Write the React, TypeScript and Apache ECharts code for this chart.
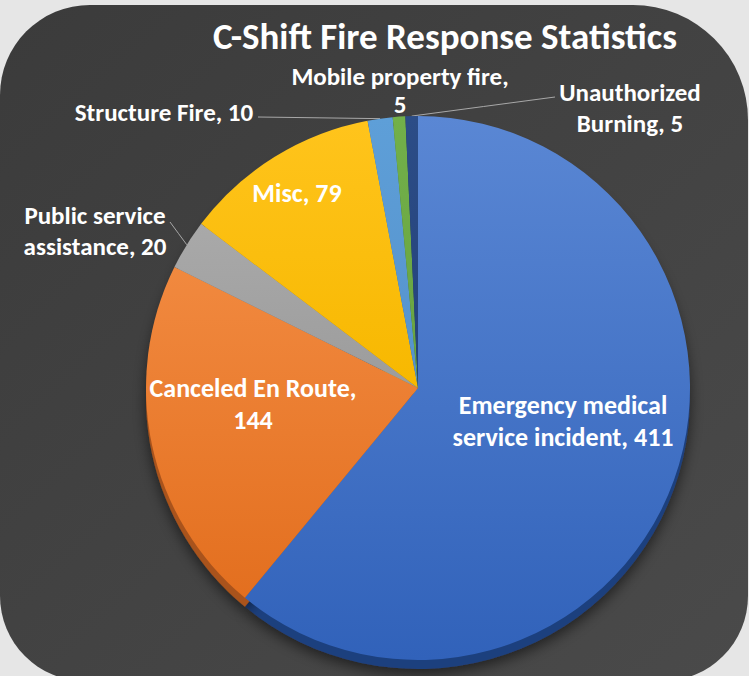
import React, { useEffect, useRef } from "react";
import * as echarts from "echarts";

const titleText = "C-Shift Fire Response Statistics";
const categories = [
  "Emergency medical\nservice incident",
  "Canceled En Route",
  "Public service\nassistance",
  "Misc",
  "Structure Fire",
  "Mobile property fire",
  "Unauthorized\nBurning",
];
const values = [411, 144, 20, 79, 10, 5, 5];
const separators = [", ", ",\n", ", ", ", ", ", ", ",\n", ", "];
const topColors = ["#5a87d4", "#f1893f", "#a9a9a9", "#ffc41c", "#5e9fd8", "#72b04a", "#2c4d87"];
const bottomColors = ["#3162ba", "#e36f1f", "#9c9c9c", "#f7b800", "#5592cc", "#68a340", "#24427a"];
const rimColors = ["#1f3f7e", "#a9521a", "#6f6f6f", "#b88a00", "#3d6f9e", "#4c7a30", "#1a2f57"];
const insideLabel = [true, true, false, true, false, false, false];
const showLine = [false, false, true, false, true, false, true];
const labelPos: [number, number][] = [
  [563, 421],
  [253, 404],
  [95, 231],
  [297, 193],
  [164, 112],
  [400, 90],
  [630, 108],
];
const lineEnds: ([number, number] | null)[] = [null, null, [170, 222], null, [258, 117], null, [555, 97]];

export default function App() {
  const ref = useRef<HTMLDivElement>(null);
  useEffect(() => {
    document.body.style.margin = "0";
    const chart = echarts.init(ref.current!, null, { renderer: "svg" });
    const font = "Carlito, Lato, 'Open Sans', sans-serif";
    const cx = 418;
    const cy = 388;
    const R = 272;
    chart.setOption({
      animation: false,
      backgroundColor: "#e6e6e6",
      graphic: [
        {
          type: "rect",
          z: -10,
          shape: { x: 0, y: 5, width: 748, height: 676, r: [90, 115, 85, 85] },
          style: {
            fill: new echarts.graphic.LinearGradient(0, 0, 1, 1, [
              { offset: 0, color: "#3b3b3b" },
              { offset: 1, color: "#4a4a4a" },
            ]),
          },
        },
        {
          type: "text",
          x: 445,
          y: 36,
          style: {
            text: titleText,
            fill: "#ffffff",
            font: `bold 37px ${font}`,
            align: "center",
            verticalAlign: "middle",
          },
        },
      ],
      series: [
        {
          type: "pie",
          silent: true,
          center: [cx, cy + 9],
          radius: R,
          startAngle: 90,
          clockwise: true,
          label: { show: false },
          labelLine: { show: false },
          itemStyle: { shadowBlur: 14, shadowColor: "rgba(0,0,0,0.55)", shadowOffsetY: 5 },
          data: values.map((v, i) => ({ value: v, name: categories[i], itemStyle: { color: rimColors[i] } })),
          z: 1,
        },
        {
          type: "pie",
          center: [cx, cy],
          radius: R,
          startAngle: 90,
          clockwise: true,
          avoidLabelOverlap: false,
          z: 2,
          label: {
            show: true,
            position: "outside",
            color: "#ffffff",
            fontFamily: font,
            fontWeight: "bold",
            fontSize: 25,
            lineHeight: 31,
            align: "center",
            formatter: (p: any) => `${categories[p.dataIndex]}${separators[p.dataIndex]}${p.value}`,
          },
          labelLine: { show: true, lineStyle: { color: "#a8a8a8", width: 1 } },
          labelLayout: (p: any) => {
            const i = p.dataIndex;
            const res: any = {
              x: labelPos[i][0],
              y: labelPos[i][1],
              align: "center",
              verticalAlign: "middle",
            };
            const end = lineEnds[i];
            if (end && p.labelLinePoints) {
              const s = p.labelLinePoints[0];
              res.labelLinePoints = [s, [(s[0] + end[0]) / 2, (s[1] + end[1]) / 2], end];
            }
            return res;
          },
          data: values.map((v, i) => ({
            value: v,
            name: categories[i],
            itemStyle: {
              color: new echarts.graphic.LinearGradient(0, 0, 0, 1, [
                { offset: 0, color: topColors[i] },
                { offset: 1, color: bottomColors[i] },
              ]),
            },
            label: insideLabel[i]
              ? { fontSize: 26, lineHeight: 32 }
              : i === 5
              ? { lineHeight: 28 }
              : {},
            labelLine: { show: showLine[i] },
          })),
        },
      ],
    });
    return () => chart.dispose();
  }, []);
  return <div ref={ref} style={{ width: 749, height: 676 }} />;
}
